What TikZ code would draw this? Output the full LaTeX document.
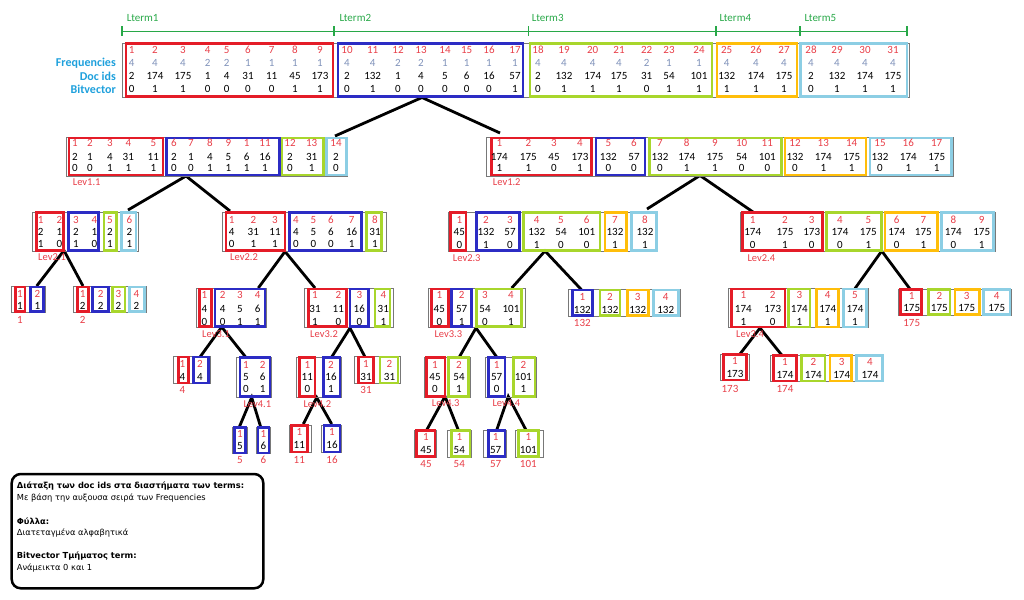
\documentclass[tikz,border=0pt]{standalone}
\usepackage{fontspec}
\setmainfont{Carlito}
\newfontfamily\legfont{DejaVu Sans}
\usetikzlibrary{fit}
\definecolor{redc}{RGB}{228,28,40}
\definecolor{numred}{RGB}{232,62,72}
\definecolor{bluec}{RGB}{44,44,196}
\definecolor{greenc}{RGB}{168,214,44}
\definecolor{orangec}{RGB}{255,190,10}
\definecolor{lbluec}{RGB}{140,206,228}
\definecolor{framec}{RGB}{120,120,120}
\definecolor{freqc}{RGB}{128,146,186}
\definecolor{rowc}{RGB}{30,160,220}
\definecolor{ltermc}{RGB}{40,168,72}
\tikzset{
  nm/.style={font=\fontsize{11}{11}\selectfont, text=numred, inner sep=0pt, text height=7pt, text depth=0pt},
  vl/.style={nm, text=black},
  fq/.style={nm, text=freqc},
  grp/.style={line width=2.6pt},
  frame/.style={draw=framec, line width=0.9pt, inner sep=0pt},
  lnk/.style={line width=2.8pt, black},
  lev/.style={font=\fontsize{10.5}{10.5}\selectfont, text=numred, inner sep=0pt, anchor=west, text height=7pt, text depth=0pt},
  rowlab/.style={font=\bfseries\fontsize{12}{12}\selectfont, text=rowc, anchor=east, inner sep=0pt, text height=7.5pt, text depth=0pt},
  lterm/.style={font=\fontsize{11}{11}\selectfont, text=ltermc, anchor=west, inner sep=0pt, text height=7pt, text depth=0pt},
  legb/.style={font=\legfont\bfseries\fontsize{8.3}{8.3}\selectfont, anchor=west, inner sep=0pt},
  legr/.style={font=\legfont\fontsize{8.3}{8.3}\selectfont, anchor=west, inner sep=0pt},
}
\newcommand\gbox[5]{\draw[grp,draw=#1] (#2,#4) rectangle (#3,#5);}
\newcommand\frm[5]{\coordinate (#1-nw) at (#2,#4); \coordinate (#1-se) at (#3,#5); \node[frame,fit=(#1-nw)(#1-se)] (#1) {};}
\newcommand\colsIV[6]{\foreach \px/\pn/\pf/\pd/\pb [count=\ci] in {#6}{%
  \node[nm] (#1n\ci) at (\px,#2) {\pn}; \node[fq] (#1f\ci) at (\px,#3) {\pf};
  \node[vl] (#1d\ci) at (\px,#4) {\pd}; \node[vl] (#1b\ci) at (\px,#5) {\pb};}}
\newcommand\colsIII[5]{\foreach \px/\pn/\pd/\pb [count=\ci] in {#5}{%
  \node[nm] (#1n\ci) at (\px,#2) {\pn};
  \node[vl] (#1d\ci) at (\px,#3) {\pd}; \node[vl] (#1b\ci) at (\px,#4) {\pb};}}
\newcommand\colsII[4]{\foreach \px/\pn/\pd [count=\ci] in {#4}{%
  \node[nm] (#1n\ci) at (\px,#2) {\pn}; \node[vl] (#1d\ci) at (\px,#3) {\pd};}}
\begin{document}
\begin{tikzpicture}[x=1pt,y=-1pt]
\useasboundingbox (0,0) rectangle (1024,599);
% ---------- connector end points
\coordinate (t0) at (422,97.5);   \coordinate (a0) at (335,136); \coordinate (b0) at (500,133);
\coordinate (a1) at (186,176);    \coordinate (c0) at (128,210); \coordinate (d0) at (230,211);
\coordinate (b1) at (700,175.5);  \coordinate (e0) at (647,209); \coordinate (f0) at (753,212);
\coordinate (c1) at (64,250.5);   \coordinate (g0) at (36.7,286); \coordinate (h0) at (83,286);
\coordinate (d1) at (285,251.5);  \coordinate (i0) at (258.3,288); \coordinate (j0) at (315,288);
\coordinate (e1) at (545,251);    \coordinate (k0) at (511.7,288); \coordinate (l0) at (581.7,290);
\coordinate (f1) at (881.7,251);  \coordinate (m0) at (855,288.5); \coordinate (n0) at (910,289);
\coordinate (i1) at (221.7,327);  \coordinate (o0) at (200,357); \coordinate (p0) at (246,357.5);
\coordinate (j1) at (350,328);    \coordinate (q0) at (331.7,357); \coordinate (r0) at (365,357);
\coordinate (k1) at (476,328);    \coordinate (s0) at (459.3,357); \coordinate (u0) at (496.7,357);
\coordinate (m1) at (760,328);    \coordinate (v0) at (740,354); \coordinate (w0) at (781.7,355);
\coordinate (p1) at (251.7,397.5); \coordinate (x1) at (239.3,427); \coordinate (x2) at (260.7,427);
\coordinate (q1) at (316.7,397.5); \coordinate (x3) at (303.3,424); \coordinate (x4) at (331.7,424);
\coordinate (s1) at (445,396.5);  \coordinate (y1) at (426.7,430); \coordinate (y2) at (458.3,430);
\coordinate (u1) at (508.3,396.5); \coordinate (y3) at (496.7,430); \coordinate (y4) at (526,430);
\foreach \ps/\pa/\pb in {t0/a0/b0, a1/c0/d0, b1/e0/f0, c1/g0/h0, d1/i0/j0, e1/k0/l0, f1/m0/n0,
  i1/o0/p0, j1/q0/r0, k1/s0/u0, m1/v0/w0, p1/x1/x2, q1/x3/x4, s1/y1/y2, u1/y3/y4}
  {\draw[lnk] (\pa) -- (\ps) -- (\pb);}
% ---------- Lterm ruler
\foreach \px [count=\ci] in {121.7,334,528.3,716,800,906.7}
  {\coordinate (tk\ci) at (\px,31.5); \draw[ltermc,line width=1.6pt] (\px,26.5) -- (\px,36.5);}
\draw[ltermc,line width=1.6pt] (tk1) -- (tk6);
\node[lterm] (lt1) at (126.7,18.5) {Lterm1};
\node[lterm] (lt2) at (339.3,18.5) {Lterm2};
\node[lterm] (lt3) at (531.7,18.5) {Lterm3};
\node[lterm] (lt4) at (719.3,18.5) {Lterm4};
\node[lterm] (lt5) at (804.3,18.5) {Lterm5};
\node[rowlab] (rl1) at (116,63) {Frequencies};
\node[rowlab] (rl2) at (116,76.5) {Doc ids};
\node[rowlab] (rl3) at (116,89.5) {Bitvector};
% ---------- top node
\frm{T}{122}{909}{43}{97}
\gbox{redc}{126}{333}{43.5}{96.5}
\gbox{bluec}{338}{523}{43.5}{96.5}
\gbox{greenc}{530}{712}{43.5}{96.5}
\gbox{orangec}{717}{797}{43.5}{96.5}
\gbox{lbluec}{800.5}{907}{43.5}{96.5}
\colsIV{T}{50.5}{63}{76.5}{89.5}{131.7/1/4/2/0, 155/2/4/174/1, 183/3/4/175/1, 207.7/4/2/1/0, 226.7/5/2/4/0, 248/6/1/31/0, 271.7/7/1/11/0, 295/8/1/45/1, 320/9/1/173/1,
347/10/4/2/0, 372.7/11/4/132/1, 398/12/2/1/0, 421/13/2/4/0, 445/14/1/5/0, 466.7/15/1/6/0, 489/16/1/16/0, 515/17/1/57/1,
538/18/4/2/0, 564/19/4/132/1, 592.7/20/4/174/1, 619/21/4/175/1, 646.7/22/2/31/0, 669/23/1/54/1, 699/24/1/101/1,
726.7/25/4/132/1, 756/26/4/174/1, 784/27/4/175/1, 811/28/4/2/0, 837/29/4/132/1, 865/30/4/174/1, 893/31/4/175/1}
% ---------- level 1
\frm{A}{66.5}{347.5}{137}{176}
\gbox{redc}{69}{163}{138}{175}
\gbox{bluec}{166.7}{279.3}{138}{175}
\gbox{greenc}{282}{323.3}{138}{175}
\gbox{lbluec}{326.5}{346.5}{138}{175}
\colsIII{A}{142.5}{156.5}{168}{75/1/2/0, 90/2/1/0, 110/3/4/1, 128.3/4/31/1, 153.3/5/11/1, 174/6/2/0, 191/7/1/0, 210/8/4/1, 228.3/9/5/1, 246.7/1/6/1, 265/11/16/1, 290/12/2/0, 311.7/13/31/1, 336/14/2/0}
\node[lev] (Alab) at (72.7,181.7) {Lev1.1};
\frm{B}{486}{953}{137}{176}
\gbox{redc}{491.7}{591.7}{138}{175}
\gbox{bluec}{596}{645}{138}{175}
\gbox{greenc}{649.3}{781.7}{138}{175}
\gbox{orangec}{785}{866}{138}{175}
\gbox{lbluec}{870}{951.7}{138}{175}
\colsIII{B}{142.5}{156.5}{168}{499.3/1/174/1, 528.3/2/175/1, 554/3/45/0, 580/4/173/1, 608.3/5/132/0, 634/6/57/0, 660/7/132/0, 686.7/8/174/1, 715/9/175/1, 741.7/10/54/0, 767.3/11/101/0, 795/12/132/0, 823.3/13/174/1, 851.7/14/175/1, 880/15/132/0, 908.3/16/174/1, 936.7/17/175/1}
\node[lev] (Blab) at (492.7,181.7) {Lev1.2};
% ---------- level 2
\frm{C}{32.3}{138.3}{212}{251}
\gbox{redc}{36.7}{63.3}{212.5}{250.5}
\gbox{bluec}{68.3}{98.3}{212.5}{250.5}
\gbox{greenc}{104}{116.7}{212.5}{250.5}
\gbox{lbluec}{121.7}{136}{212.5}{250.5}
\colsIII{C}{219.5}{231.5}{243.5}{40.7/1/2/1, 59.3/2/1/0, 76/3/2/1, 94.3/4/1/0, 110/5/2/1, 129.3/6/2/1}
\node[lev] (Clab) at (38,257) {Lev2.1};
\frm{D}{222.7}{386.7}{212}{251}
\gbox{redc}{226}{285}{212.5}{250.5}
\gbox{bluec}{289.3}{361.7}{212.5}{250.5}
\gbox{greenc}{366.7}{381.7}{212.5}{250.5}
\colsIII{D}{219.5}{231.5}{243.5}{231.7/1/4/0, 253.3/2/31/1, 275/3/11/1, 296/4/4/0, 313.3/5/5/0, 331/6/6/0, 351.7/7/16/1, 375/8/31/1}
\node[lev] (Dlab) at (230,257) {Lev2.2};
\frm{E}{448.3}{657}{212}{251}
\gbox{redc}{450.7}{466}{212.5}{250.5}
\gbox{bluec}{476.7}{519.3}{212.5}{250.5}
\gbox{greenc}{523.3}{600}{212.5}{250.5}
\gbox{orangec}{605}{626.7}{212.5}{250.5}
\gbox{lbluec}{631.7}{656.7}{212.5}{250.5}
\colsIII{E}{219.5}{232}{244.5}{459.3/1/45/0, 486/2/132/1, 510/3/57/0, 536.7/4/132/1, 561/5/54/0, 586.7/6/101/0, 615/7/132/1, 645/8/132/1}
\node[lev] (Elab) at (452.7,257.5) {Lev2.3};
\frm{F}{740.7}{995}{212}{251}
\gbox{redc}{742.3}{822.7}{212.5}{250.5}
\gbox{greenc}{826.7}{881.7}{212.5}{250.5}
\gbox{orangec}{885}{937.3}{212.5}{250.5}
\gbox{lbluec}{941.7}{993.3}{212.5}{250.5}
\colsIII{F}{219.5}{232}{244.5}{752.7/1/174/0, 785/2/175/1, 811.7/3/173/0, 840/4/174/0, 868.3/5/175/1, 896.7/6/174/0, 923.3/7/175/1, 953.3/8/174/0, 981.7/9/175/1}
\node[lev] (Flab) at (747.3,257.5) {Lev2.4};
% ---------- level 3
\frm{G}{11}{45}{286}{312.5}
\gbox{redc}{15.5}{25}{287}{311.5}
\gbox{bluec}{30.7}{43.3}{287}{311.5}
\colsII{G}{293.5}{305.5}{20/1/1, 37.3/2/1}
\node[nm] (Glab) at (20,320) {1};
\frm{H}{73.3}{146.7}{286}{312.5}
\gbox{redc}{77.3}{88.3}{287}{311.5}
\gbox{bluec}{92.7}{108.3}{287}{311.5}
\gbox{greenc}{112.7}{125}{287}{311.5}
\gbox{lbluec}{129.3}{144.5}{287}{311.5}
\colsII{H}{293.5}{305.5}{82.7/1/2, 100.7/2/2, 118.3/3/2, 136.5/4/2}
\node[nm] (Hlab) at (82.7,320) {2};
\frm{I}{196}{266}{288.5}{327}
\gbox{redc}{199.3}{211.7}{289}{326.5}
\gbox{bluec}{215}{265}{289}{326.5}
\colsIII{I}{295}{308.5}{321.5}{204.3/1/4/0, 222.7/2/4/0, 240/3/5/1, 257.7/4/6/1}
\node[lev] (Ilab) at (202,333.5) {Lev3.1};
\frm{J}{304}{393}{288.5}{327}
\gbox{redc}{308.3}{346.7}{289}{326.5}
\gbox{bluec}{350}{368.3}{289}{326.5}
\gbox{greenc}{375}{390}{289}{326.5}
\colsIII{J}{295}{308.5}{321.5}{315/1/31/1, 338.3/2/11/0, 359.3/3/16/0, 383.3/4/31/1}
\node[lev] (Jlab) at (310,333.5) {Lev3.2};
\frm{K}{428.3}{525}{288.5}{327}
\gbox{redc}{431.7}{448.3}{289}{326.5}
\gbox{bluec}{451.7}{471.7}{289}{326.5}
\gbox{greenc}{476.7}{521.7}{289}{326.5}
\colsIII{K}{295}{308.5}{321.5}{439.3/1/45/0, 461.7/2/57/1, 485/3/54/0, 511/4/101/1}
\node[lev] (Klab) at (434.3,334) {Lev3.3};
\frm{L}{568.3}{680}{289.5}{316}
\gbox{bluec}{572.7}{592.3}{290}{315.5}
\gbox{greenc}{600}{620}{290}{315.5}
\gbox{orangec}{627.7}{648.3}{290}{315.5}
\gbox{lbluec}{653.3}{678.3}{290}{315.5}
\colsII{L}{296.5}{309.5}{582.3/1/132, 610/2/132, 637.7/3/132, 665.7/4/132}
\node[nm] (Llab) at (582.3,323) {132};
\frm{M}{728.3}{868.3}{288.5}{327.5}
\gbox{redc}{731.7}{785}{289}{327}
\gbox{greenc}{788.3}{810}{289}{327}
\gbox{orangec}{816.7}{838.3}{289}{327}
\gbox{lbluec}{843.3}{866.7}{289}{327}
\colsIII{M}{295}{308.5}{321.5}{743.3/1/174/1, 772.7/2/173/0, 799.3/3/174/1, 827.7/4/174/1, 855/5/174/1}
\node[lev] (Mlab) at (736,334) {Lev3.4};
\frm{N}{898.3}{1011.7}{289}{315}
\gbox{redc}{900.5}{921.7}{289.5}{314.5}
\gbox{greenc}{928.3}{950}{289.5}{314.5}
\gbox{orangec}{955}{979.3}{289.5}{314.5}
\gbox{lbluec}{983.3}{1010}{289.5}{314.5}
\colsII{N}{295.5}{307.5}{911.7/1/175, 939.3/2/175, 966.7/3/175, 996.7/4/175}
\node[nm] (Nlab) at (911.7,323) {175};
% ---------- level 4
\frm{O}{173.3}{210}{356.5}{383.5}
\gbox{redc}{178.3}{188.3}{357}{383}
\gbox{bluec}{193.3}{208.3}{357}{383}
\colsII{O}{363.5}{376.5}{182.3/1/4, 200/2/4}
\node[nm] (Olab) at (182.3,389.5) {4};
\frm{P}{236.7}{271.7}{357}{397}
\gbox{bluec}{240}{270}{357.5}{396.5}
\colsIII{P}{365}{377}{388.5}{246/1/5/0, 262.7/2/6/1}
\node[lev] (Plab) at (243.3,403.5) {Lev4.1};
\frm{Q}{296.7}{341.7}{357}{397}
\gbox{redc}{299.3}{315}{357.5}{396.5}
\gbox{bluec}{323.3}{340}{357.5}{396.5}
\colsIII{Q}{365}{377}{388.5}{307.3/1/11/0, 331/2/16/1}
\node[lev] (Qlab) at (303.3,403.5) {Lev4.2};
\frm{R}{354}{400}{356.5}{383.5}
\gbox{redc}{358.3}{373.3}{357}{383}
\gbox{greenc}{380}{398}{357}{383}
\colsII{R}{363.5}{376.5}{366/1/31, 389.5/2/31}
\node[nm] (Rlab) at (366,389.5) {31};
\frm{S}{424}{470.7}{357}{397}
\gbox{redc}{426.5}{445}{357.5}{396.5}
\gbox{greenc}{448.3}{468.3}{357.5}{396.5}
\colsIII{S}{364.5}{377}{388.5}{435/1/45/0, 459/2/54/1}
\node[lev] (Slab) at (431.7,403) {Lev4.3};
\frm{U}{485}{536.7}{357}{397}
\gbox{bluec}{488.3}{505}{357.5}{396.5}
\gbox{greenc}{513.3}{535}{357.5}{396.5}
\colsIII{U}{364.5}{377}{388.5}{496.7/1/57/0, 523.3/2/101/1}
\node[lev] (Ulab) at (492.3,403) {Lev4.4};
\frm{V}{720.7}{749.3}{354}{380.5}
\gbox{redc}{723.3}{746.7}{354.5}{380}
\colsII{V}{360.5}{374}{735/1/173}
\node[nm] (Vlab) at (730,388.5) {173};
\frm{W}{770.7}{883.3}{355}{381.5}
\gbox{redc}{773.3}{796.7}{355.5}{381}
\gbox{greenc}{801.7}{825}{355.5}{381}
\gbox{orangec}{830}{851.7}{355.5}{381}
\gbox{lbluec}{856.7}{882.7}{355.5}{381}
\colsII{W}{361.5}{374.5}{785/1/174, 813.3/2/174, 841.7/3/174, 870/4/174}
\node[nm] (Wlab) at (785,388.5) {174};
% ---------- level 5
\frm{X1}{232.7}{247.3}{427}{453.5}
\gbox{bluec}{234.5}{245.5}{427.5}{453}
\colsII{X1}{434}{446}{240/1/5}
\node[nm] (X1lab) at (240,460) {5};
\frm{X2}{256.7}{270}{427}{453.5}
\gbox{bluec}{258}{269}{427.5}{453}
\colsII{X2}{434}{446}{263.3/1/6}
\node[nm] (X2lab) at (263.3,460) {6};
\frm{X3}{289.3}{311.7}{425}{452.5}
\gbox{redc}{291.7}{307.3}{425.5}{452}
\colsII{X3}{432}{445}{299.3/1/11}
\node[nm] (X3lab) at (299.3,460) {11};
\frm{X4}{321.7}{341.7}{425}{452.5}
\gbox{bluec}{324}{340}{425.5}{452}
\colsII{X4}{432}{445}{332/1/16}
\node[nm] (X4lab) at (332,460) {16};
\frm{Y1}{414}{436.7}{430}{457}
\gbox{redc}{416.7}{435}{430.5}{456.5}
\colsII{Y1}{437}{450}{426/1/45}
\node[nm] (Y1lab) at (426,463.5) {45};
\frm{Y2}{447.3}{471.7}{430}{457}
\gbox{greenc}{451.7}{470}{430.5}{456.5}
\colsII{Y2}{437}{450}{459.3/1/54}
\node[nm] (Y2lab) at (459.3,463.5) {54};
\frm{Y3}{483.3}{506.7}{430}{457}
\gbox{bluec}{488.3}{505}{430.5}{456.5}
\colsII{Y3}{437}{450}{495.7/1/57}
\node[nm] (Y3lab) at (495.7,463.5) {57};
\frm{Y4}{515}{543.3}{430}{457}
\gbox{greenc}{518.3}{538.3}{430.5}{456.5}
\colsII{Y4}{437}{450}{528.3/1/101}
\node[nm] (Y4lab) at (528.3,463.5) {101};
% ---------- legend
\coordinate (lg-nw) at (11.7,474); \coordinate (lg-se) at (263.3,588.3);
\node[draw, line width=2.5pt, rounded corners=9pt, inner sep=0pt, fit=(lg-nw)(lg-se)] (leg) {};
\node[legb] (lg1) at (16.7,486.5) {Διάταξη των doc ids στα διαστήματα των terms:};
\node[legr] (lg2) at (16.7,498.5) {Με βάση την αυξουσα σειρά των Frequencies};
\node[legb] (lg3) at (16.7,521.5) {Φύλλα:};
\node[legr] (lg4) at (16.7,533.5) {Διατεταγμένα αλφαβητικά};
\node[legb] (lg5) at (16.7,556) {Bitvector Τμήματος term:};
\node[legr] (lg6) at (16.7,568) {Ανάμεικτα 0 και 1};
\end{tikzpicture}
\end{document}
